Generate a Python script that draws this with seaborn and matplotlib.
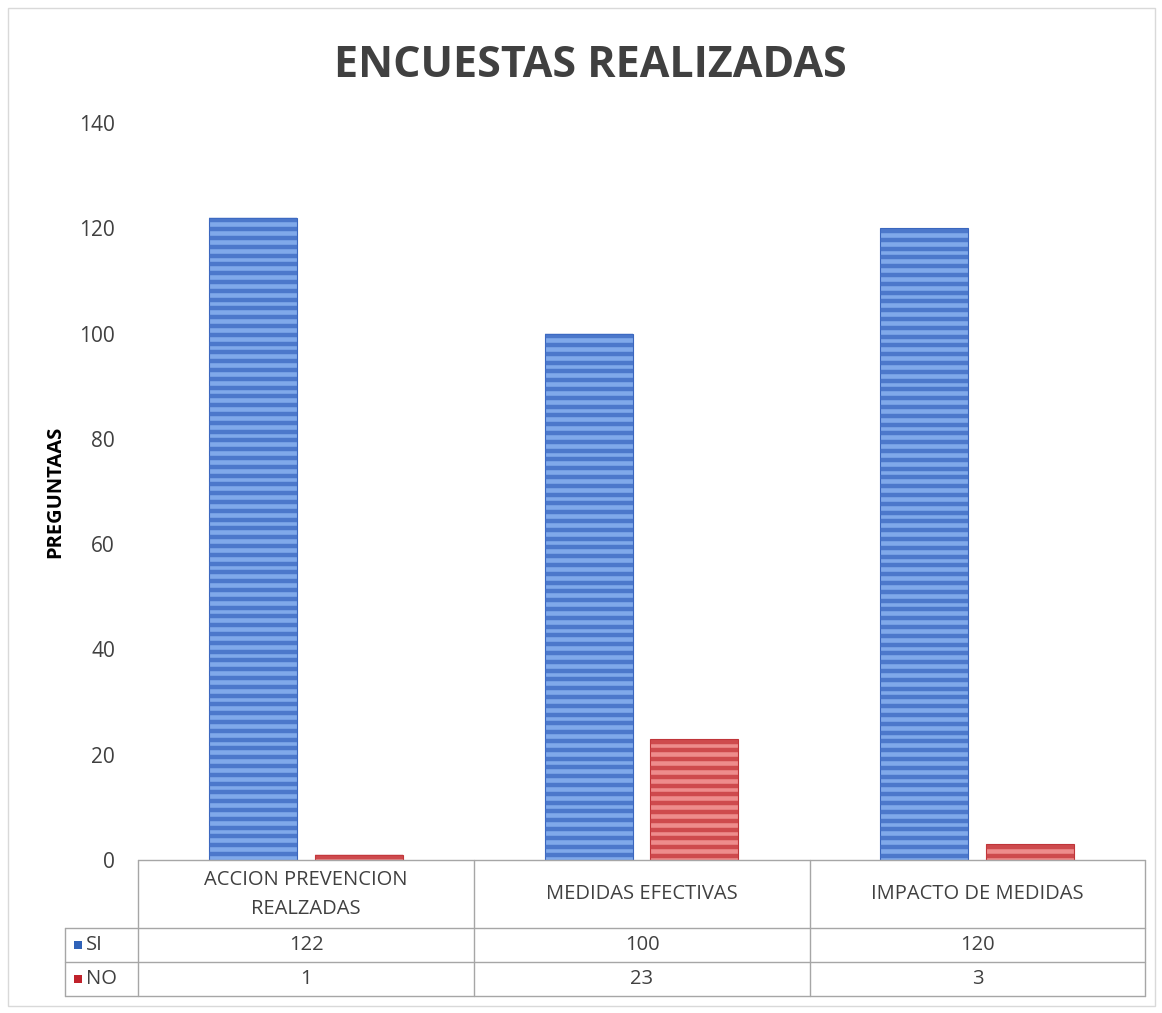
import matplotlib
matplotlib.use("Agg")
import matplotlib.pyplot as plt
import seaborn as sns
import pandas as pd
import numpy as np
from matplotlib.lines import Line2D
from matplotlib.patches import Rectangle
from matplotlib.collections import LineCollection

categories = ["ACCION PREVENCION\nREALZADAS", "MEDIDAS EFECTIVAS", "IMPACTO DE MEDIDAS"]
series = ["SI", "NO"]
si_values = [122, 100, 120]
no_values = [1, 23, 3]
yticks = [0, 20, 40, 60, 80, 100, 120, 140]

df = pd.DataFrame({
    "categoria": categories * 2,
    "serie": ["SI"] * 3 + ["NO"] * 3,
    "valor": si_values + no_values,
})

sns.set_theme(style="white")
plt.rcParams['font.family'] = ['Open Sans', 'DejaVu Sans']

W, H = 1162, 1013
fig = plt.figure(figsize=(W / 100, H / 100), dpi=100)

def fx(x):
    return x / W

def fy(y):
    return 1 - y / H

ax_l, ax_r, ax_t, ax_b = 138, 1145, 123, 860
ax = fig.add_axes([fx(ax_l), fy(ax_b), (ax_r - ax_l) / W, (ax_b - ax_t) / H])

face = {"SI": "#80a9ea", "NO": "#ee8c8c"}
stripe = {"SI": "#3f6cc4", "NO": "#c63a3e"}
edge = {"SI": "#3a66bd", "NO": "#bf3538"}
key = {"SI": "#2f62b8", "NO": "#c0222b"}

sns.barplot(data=df, x="categoria", y="valor", hue="serie", hue_order=series,
            palette=face, width=0.63, gap=0.17, legend=False, ax=ax, errorbar=None)

ax.set_ylim(0, 140)
ax.set_xlim(-0.5, 2.5)

# horizontal stripe decoration, clipped to each bar
step = 140 / (860 - 123) * 8.8
for cont, s in zip(ax.containers, series):
    for p in cont:
        p.set_facecolor(face[s])
        p.set_edgecolor(edge[s])
        p.set_linewidth(0.8)
        x0, y0, w, h = p.get_x(), p.get_y(), p.get_width(), p.get_height()
        ys = np.arange(y0 + h - step * 0.3, y0 - step, -step)
        segs = [[(x0, yy), (x0 + w, yy)] for yy in ys]
        lc = LineCollection(segs, colors=stripe[s], linewidths=3.2, alpha=0.8, zorder=p.get_zorder() + 0.1)
        lc.set_clip_path(p)
        ax.add_collection(lc)

ax.set_yticks(yticks)
ax.set_yticklabels([str(t) for t in yticks], fontsize=15, color="#404040")
ax.tick_params(axis="y", length=0, pad=16.5)
ax.set_xticks([])
ax.set_xlabel("")
ax.set_ylabel("PREGUNTAAS", fontsize=14.5, fontweight="bold", color="#000000")
ax.yaxis.set_label_coords(-0.0725, 0.5)
for sp in ["top", "right", "left", "bottom"]:
    ax.spines[sp].set_visible(False)
ax.patch.set_alpha(0)

# Title
fig.text(fx(590), fy(77), "ENCUESTAS REALIZADAS", ha="center", va="baseline",
         fontsize=31, fontweight="bold", color="#404040")

# Outer border
fig.add_artist(Rectangle((fx(8), fy(1006)), fx(1155) - fx(8), fy(8) - fy(1006),
                         transform=fig.transFigure, fill=False, edgecolor="#d9d9d9", lw=1))

# Data table
lc_col = "#a6a6a6"
col_edges = [138, 474, 810, 1145]
rows_y = [860, 928, 962, 996]
left_x = 65

def hline(y, x0, x1):
    fig.add_artist(Line2D([fx(x0), fx(x1)], [fy(y), fy(y)], transform=fig.transFigure, color=lc_col, lw=1))

def vline(x, y0, y1):
    fig.add_artist(Line2D([fx(x), fx(x)], [fy(y0), fy(y1)], transform=fig.transFigure, color=lc_col, lw=1))

hline(rows_y[0], col_edges[0], col_edges[-1])
for y in rows_y[1:]:
    hline(y, left_x, col_edges[-1])
vline(left_x, rows_y[1], rows_y[-1])
for x in col_edges:
    vline(x, rows_y[0], rows_y[-1])

tc = "#404040"
for i, cat in enumerate(categories):
    cx = (col_edges[i] + col_edges[i + 1]) / 2
    fig.text(fx(cx), fy((rows_y[0] + rows_y[1]) / 2), cat, ha="center", va="center",
             fontsize=14.5, color=tc, linespacing=1.6)
    for r, vals in enumerate([si_values, no_values]):
        fig.text(fx(cx), fy((rows_y[r + 1] + rows_y[r + 2]) / 2), str(vals[i]),
                 ha="center", va="center", fontsize=14.5, color=tc)

for r, s in enumerate(series):
    cy = (rows_y[r + 1] + rows_y[r + 2]) / 2
    fig.add_artist(Rectangle((fx(74), fy(cy + 4)), fx(82) - fx(74), fy(cy - 4) - fy(cy + 4),
                             transform=fig.transFigure, facecolor=key[s], edgecolor="none"))
    fig.text(fx(86), fy(cy), s, ha="left", va="center", fontsize=14.5, color=tc)

fig.savefig("out.png", dpi=100, facecolor="white")
